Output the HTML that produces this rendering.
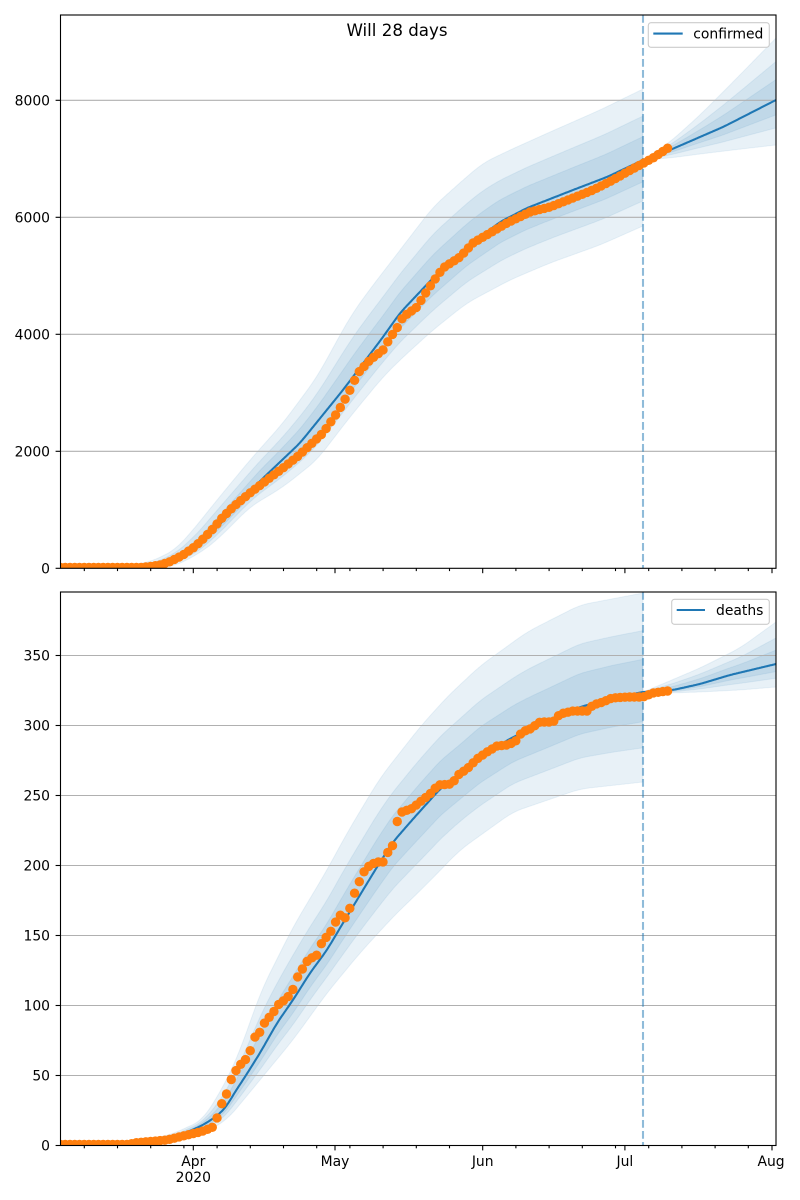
<!DOCTYPE html>
<html>
<head>
<meta charset="utf-8">
<style>
html,body{margin:0;padding:0;background:#fff;}
svg{display:block;}
text{font-family:"DejaVu Sans","Liberation Sans",sans-serif;fill:#000;}
</style>
</head>
<body>
<svg id="s" width="800" height="1200" viewBox="0 0 800 1200" xmlns="http://www.w3.org/2000/svg">
<rect x="0" y="0" width="800" height="1200" fill="#fff"/>
<defs>
<clipPath id="c1"><rect x="60.5" y="15" width="715.5" height="553.3"/></clipPath>
<clipPath id="c2"><rect x="60.5" y="592" width="715.5" height="553.5"/></clipPath>
</defs>
<g id="b1" clip-path="url(#c1)"></g>
<g id="b2" clip-path="url(#c2)"></g>
<g stroke="#b0b0b0" stroke-width="1.1">
<line x1="60.5" x2="776" y1="451.3" y2="451.3"/>
<line x1="60.5" x2="776" y1="334.3" y2="334.3"/>
<line x1="60.5" x2="776" y1="217.3" y2="217.3"/>
<line x1="60.5" x2="776" y1="100.3" y2="100.3"/>
<line x1="60.5" x2="776" y1="1075.5" y2="1075.5"/>
<line x1="60.5" x2="776" y1="1005.5" y2="1005.5"/>
<line x1="60.5" x2="776" y1="935.5" y2="935.5"/>
<line x1="60.5" x2="776" y1="865.5" y2="865.5"/>
<line x1="60.5" x2="776" y1="795.5" y2="795.5"/>
<line x1="60.5" x2="776" y1="725.5" y2="725.5"/>
<line x1="60.5" x2="776" y1="655.5" y2="655.5"/>
</g>
<g id="l1" clip-path="url(#c1)"></g>
<g id="l2" clip-path="url(#c2)"></g>
<line x1="643" x2="643" y1="15" y2="568.3" stroke="#1f77b4" stroke-opacity="0.5" stroke-width="2.08" stroke-dasharray="7.7 3.3"/>
<line x1="643" x2="643" y1="592" y2="1145.5" stroke="#1f77b4" stroke-opacity="0.5" stroke-width="2.08" stroke-dasharray="7.7 3.3"/>
<g id="d1" clip-path="url(#c1)"></g>
<g id="d2" clip-path="url(#c2)"></g>
<g id="ticks" stroke="#000" stroke-width="1.1"></g>
<rect x="60.5" y="15" width="715.5" height="553.3" fill="none" stroke="#000" stroke-width="1.1"/>
<rect x="60.5" y="592" width="715.5" height="553.5" fill="none" stroke="#000" stroke-width="1.1"/>
<g font-size="13.9" text-anchor="end">
<text x="50" y="573.3">0</text>
<text x="50" y="456.3">2000</text>
<text x="50" y="339.3">4000</text>
<text x="50" y="222.3">6000</text>
<text x="50" y="105.3">8000</text>
<text x="50" y="1150.5">0</text>
<text x="50" y="1080.5">50</text>
<text x="50" y="1010.5">100</text>
<text x="50" y="940.5">150</text>
<text x="50" y="870.5">200</text>
<text x="50" y="800.5">250</text>
<text x="50" y="730.5">300</text>
<text x="50" y="660.5">350</text>
</g>
<g font-size="13.9" text-anchor="middle">
<text x="193.3" y="1166">Apr</text>
<text x="193.3" y="1182">2020</text>
<text x="335" y="1166">May</text>
<text x="482.7" y="1166">Jun</text>
<text x="624.9" y="1166">Jul</text>
<text x="771" y="1166">Aug</text>
</g>
<text x="397" y="36" font-size="16.67" text-anchor="middle">Will 28 days</text>
<rect x="648.3" y="22.7" width="121" height="24.6" rx="2.8" ry="2.8" fill="#fff" fill-opacity="0.8" stroke="#cccccc" stroke-width="1.1"/>
<line x1="653.3" x2="682.7" y1="33.6" y2="33.6" stroke="#1f77b4" stroke-width="2.08"/>
<text x="693.3" y="38.6" font-size="13.9">confirmed</text>
<rect x="671.7" y="599.3" width="97.6" height="25" rx="2.8" ry="2.8" fill="#fff" fill-opacity="0.8" stroke="#cccccc" stroke-width="1.1"/>
<line x1="676.7" x2="705" y1="610" y2="610" stroke="#1f77b4" stroke-width="2.08"/>
<text x="716" y="615" font-size="13.9">deaths</text>
</svg>
<script>
(function(){
var NS="http://www.w3.org/2000/svg";
function el(p,tag,attrs){var e=document.createElementNS(NS,tag);for(var k in attrs)e.setAttribute(k,attrs[k]);p.appendChild(e);return e;}
function ip(P,x){if(x<=P[0][0])return P[0][1];for(var i=1;i<P.length;i++){if(x<=P[i][0]){var a=P[i-1],b=P[i];return a[1]+(b[1]-a[1])*(x-a[0])/(b[0]-a[0]);}}return P[P.length-1][1];}
var X0=60.5,D=4.743;
function xs(x0,x1){var a=[];for(var x=x0;x<x1;x+=1)a.push(x);a.push(x1);return a;}
function smooth(arr,r){var n=arr.length,o=[];for(var i=0;i<n;i++){var rr=Math.min(r,i,n-1-i),s=0,c=0;for(var j=i-rr;j<=i+rr;j++){s+=arr[j];c++;}o.push(s/c);}return o;}
function bands(g,L,U,Lo,x0,x1){
  var X=xs(x0,x1);
  var l=smooth(X.map(function(x){return ip(L,x);}),5);
  var u=smooth(X.map(function(x){return ip(U,x);}),10);
  var w=smooth(X.map(function(x){return ip(Lo,x);}),10);
  [1,0.62,0.33].forEach(function(f){
    var up=[],lo=[];
    for(var i=0;i<X.length;i++){
      up.push(X[i].toFixed(1)+","+(l[i]+f*(u[i]-l[i])).toFixed(1));
      lo.push(X[i].toFixed(1)+","+(l[i]+f*(w[i]-l[i])).toFixed(1));
    }
    el(g,"polygon",{points:up.concat(lo.reverse()).join(" "),fill:"#1f77b4","fill-opacity":"0.1",stroke:"#1f77b4","stroke-opacity":"0.08","stroke-width":"1"});
  });
}
function line(g,L,x0,x1){var X=xs(x0,x1);var l=smooth(X.map(function(x){return ip(L,x);}),5);var p=[];for(var i=0;i<X.length;i++)p.push(X[i].toFixed(1)+","+l[i].toFixed(1));
  el(g,"polyline",{points:p.join(" "),fill:"none",stroke:"#1f77b4","stroke-width":"2.08","stroke-linejoin":"round"});}
function dots(g,O,n){for(var d=0;d<=n;d++){var x=X0+d*D;el(g,"circle",{cx:x.toFixed(2),cy:ip(O,x).toFixed(2),r:"4.7",fill:"#ff7f0e"});}}

var CL=[[60,568],[140,567.5],[160,565],[183,556],[200,545],[222,522],[240,503],[260,481],[300,443],[343,390],[383,337],[400,313],[433,278],[467,247],[500,222],[527,208],[573,190],[607,177],[643,160]];
var CLf=[[643,160],[670,150],[723,127],[776,100]];
var CU=[[60,567],[120,566],[150,562],[175,550],[193,530],[217,500],[250,460],[283,423],[317,377],[350,317],[367,293],[400,250],[433,207],[463,180],[483,163],[510,150],[550,132],[600,110],[643,89]];
var CLo=[[60,568.3],[150,568],[175,566],[200,553],[217,540],[250,507],[283,487],[317,460],[350,417],[383,377],[400,360],[433,330],[467,303],[510,280],[550,263],[600,245],[643,226]];
var CUf=[[643,160],[670,142],[700,115],[733,82],[776,38]];
var CLof=[[643,160],[670,158],[700,154],[733,150],[776,145]];
var CO=[[60,567.5],[140,567.5],[150,566.5],[160,565],[170,561.7],[183,555],[193,548],[200,542],[211,531],[222,518],[233,507],[250,493],[267,480],[283,468],[297,457],[310,445],[323,433],[330,423],[337,413],[343,403],[350,390],[358,373],[370,360],[383,350],[390,338],[397,328],[403,317],[417,307],[423,297],[433,282],[443,268],[460,257],[473,243],[490,233],[507,223],[530,212],[550,207],[573,198],[593,190],[613,180],[627,172],[640,165],[653,158],[668,148]];
var DL=[[60,1145],[130,1144.5],[170,1140],[203,1125],[217,1116],[227,1106],[233,1095],[243,1080],[260,1053],[277,1023],[293,1000],[310,973],[327,950],[343,923],[360,895],[377,867],[393,842],[413,819],[440,789],[460,774],[480,757],[513,737],[547,722],[580,707],[613,698],[643,692]];
var DLf=[[643,692],[673,690],[700,684],[730,675],[776,664]];
var DU=[[60,1144],[130,1142],[170,1135],[203,1120],[227,1080],[243,1043],[260,993],[293,927],[327,870],[347,833],[380,778],[420,727],[447,697],[480,666],[527,632],[580,605],[643,593]];
var DLo=[[60,1145.5],[150,1145],[200,1135],[227,1120],[260,1080],[293,1040],[327,993],[360,953],[393,917],[427,884],[460,850],[513,812],[580,789],[643,782]];
var DUf=[[643,692],[660,685],[700,668],[740,648],[776,622]];
var DLof=[[643,692],[670,693],[700,692],[740,690],[776,687]];
var DO=[[60,1144.5],[130,1144.5],[133,1143],[167,1140],[187,1135],[200,1132],[210,1128.5],[213,1127],[217,1118],[222,1103],[227,1093],[230,1082],[235,1072],[240,1065],[248,1057],[255,1037],[260,1032],[265,1022],[273,1013],[278,1005],[287,998],[292,992],[297,978],[303,968],[308,960],[317,955],[322,942],[330,933],[335,923],[340,915],[345,918],[350,908],[353,897],[360,880],[363,873],[370,865],[377,862],[383,862],[388,852],[393,845],[397,822],[402,812],[412,808.5],[420,802],[430,794],[438,785],[452,784],[458,775],[467,769],[477,759],[487,752],[497,746],[507,745],[515,742],[522,732],[530,729],[540,722],[553,722],[560,714],[573,711],[587,711],[593,705],[603,702],[612,698],[627,697],[643,697],[653,693],[667,691]];

var b1=document.getElementById("b1"),b2=document.getElementById("b2");
bands(b1,CL,CU,CLo,60.5,643);bands(b1,CLf,CUf,CLof,643,776);
bands(b2,DL,DU,DLo,60.5,643);bands(b2,DLf,DUf,DLof,643,776);
var l1=document.getElementById("l1"),l2=document.getElementById("l2");
line(l1,CL,60.5,643);line(l1,CLf,643,776);
line(l2,DL,60.5,643);line(l2,DLf,643,776);
dots(document.getElementById("d1"),CO,128);
dots(document.getElementById("d2"),DO,128);

var t=document.getElementById("ticks");
var majX=[193.3,335,482.7,624.9,772];
var minX=[];for(var k=0;k<21;k++){var x=84.3+33.2*k;if(x>776)break;if(Math.abs(x-482.7)<2)continue;minX.push(x);}
[568.3,1145.5].forEach(function(yb){
  majX.forEach(function(x){el(t,"line",{x1:x,x2:x,y1:yb,y2:yb+4.9});});
  minX.forEach(function(x){el(t,"line",{x1:x,x2:x,y1:yb,y2:yb+2.8});});
});
[568.3,451.3,334.3,217.3,100.3,1145.5,1075.5,1005.5,935.5,865.5,795.5,725.5,655.5].forEach(function(y){el(t,"line",{x1:55.6,x2:60.5,y1:y,y2:y});});
})();
</script>
</body>
</html>
